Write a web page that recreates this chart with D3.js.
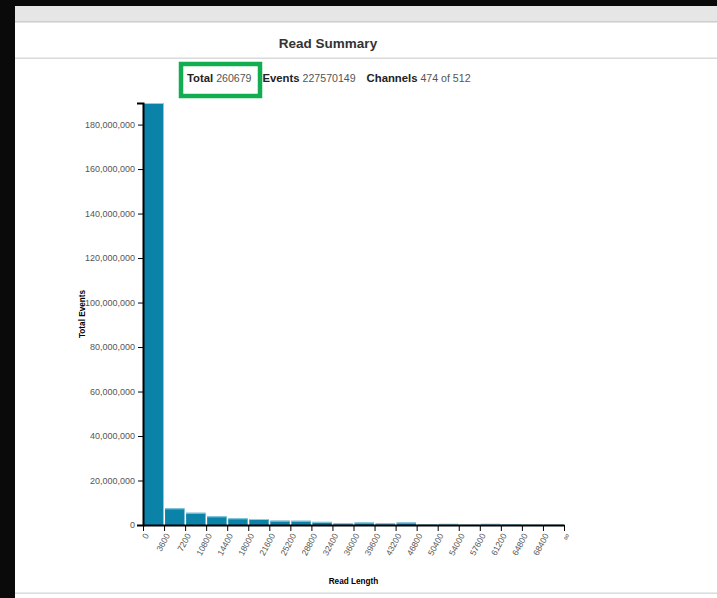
<!DOCTYPE html>
<html>
<head>
<meta charset="utf-8">
<script src="https://cdn.jsdelivr.net/npm/d3@7"></script>
<style>
  html, body { margin: 0; padding: 0; background: #0a0a0a; }
  svg { display: block; }
  text { font-family: "Liberation Sans", Arial, Helvetica, sans-serif; }
</style>
</head>
<body>
<script>
// Read-length bins (bin edges every 3600 bases, last bin open-ended)
const binEdges = ["0", "3600", "7200", "10800", "14400", "18000", "21600", "25200",
  "28800", "32400", "36000", "39600", "43200", "46800", "50400", "54000",
  "57600", "61200", "64800", "68400", "\u221E"];

// Total events per read-length bin
const totalEvents = [189700000, 7500000, 5500000, 3900000, 3000000, 2700000,
  1950000, 1900000, 1400000, 700000, 1100000, 700000, 1100000, 200000,
  500000, 100000, 500000, 400000, 100000, 100000];

// Y axis tick values
const yTicks = [0, 20000000, 40000000, 60000000, 80000000, 100000000,
  120000000, 140000000, 160000000, 180000000];

// Summary figures shown under the title
const summaryStats = [
  { label: "Total", value: "260679" },
  { label: "Events", value: "227570149" },
  { label: "Channels", value: "474 of 512" }
];

const W = 717, H = 598;
const svg = d3.select("body").append("svg").attr("width", W).attr("height", H);

// window frame: dark surround, grey header strip, white panel
svg.append("rect").attr("x", 0).attr("y", 0).attr("width", W).attr("height", H).attr("fill", "#0a0a0a");
svg.append("rect").attr("x", 15).attr("y", 6).attr("width", W - 15).attr("height", H - 6).attr("fill", "#ffffff");
svg.append("rect").attr("x", 15).attr("y", 6).attr("width", W - 15).attr("height", 15).attr("fill", "#e6e6e6");
svg.append("rect").attr("x", 15).attr("y", 21).attr("width", W - 15).attr("height", 1.6).attr("fill", "#cfcfcf");
svg.append("rect").attr("x", 15).attr("y", 57.5).attr("width", W - 15).attr("height", 1.4).attr("fill", "#d8d8d8");
svg.append("rect").attr("x", 15).attr("y", 592.5).attr("width", W - 15).attr("height", 1.4).attr("fill", "#d8d8d8");

// title
svg.append("text").attr("x", 328).attr("y", 47.5)
  .attr("text-anchor", "middle")
  .attr("font-size", 13.5).attr("font-weight", "bold").attr("fill", "#333")
  .text("Read Summary");

// summary line
const stats = svg.append("text").attr("x", 187).attr("y", 82);
summaryStats.forEach((s, i) => {
  stats.append("tspan")
    .attr("dx", i === 0 ? 0 : 11)
    .attr("font-size", 11.3).attr("font-weight", "bold").attr("fill", "#222")
    .text(s.label);
  stats.append("tspan")
    .attr("dx", 3)
    .attr("font-size", 10.6).attr("fill", "#555")
    .text(s.value);
});

// highlight box around the total
svg.append("rect").attr("x", 181).attr("y", 64).attr("width", 79).attr("height", 32)
  .attr("fill", "none").attr("stroke", "#12ad50").attr("stroke-width", 4.5);

// chart
const x0 = 143, x1 = 564, y0 = 525, y1 = 103;
const x = d3.scaleLinear().domain([0, totalEvents.length]).range([x0, x1]);
const y = d3.scaleLinear().domain([0, d3.max(totalEvents)]).range([y0, y1]);

const g = svg.append("g");

g.selectAll("rect.bar").data(totalEvents).enter().append("rect")
  .attr("class", "bar")
  .attr("x", (d, i) => x(i) + 1)
  .attr("y", d => y(d))
  .attr("width", (d, i) => x(i + 1) - x(i) - 1.6)
  .attr("height", d => y0 - y(d))
  .attr("fill", "#0b82a8");

// light top edge of each bar
g.selectAll("line.cap").data(totalEvents).enter().append("line")
  .attr("class", "cap")
  .attr("x1", (d, i) => x(i) + 1)
  .attr("x2", (d, i) => x(i + 1) - 0.6)
  .attr("y1", d => y(d) + 0.5).attr("y2", d => y(d) + 0.5)
  .attr("stroke", "#8fd0e4").attr("stroke-width", 1);

// y axis
const yAxis = g.append("g").attr("transform", `translate(${x0},0)`)
  .call(d3.axisLeft(y).tickValues(yTicks).tickFormat(d3.format(",")).tickSize(5).tickSizeOuter(6));
yAxis.select(".domain").attr("stroke", "#000").attr("stroke-width", 2);
yAxis.selectAll(".tick line").attr("stroke", "#000");
yAxis.selectAll(".tick text").attr("font-size", 9).attr("fill", "#555")
  .attr("font-family", "'Liberation Sans', Arial, sans-serif");

// x axis
const xAxis = g.append("g").attr("transform", `translate(0,${y0})`)
  .call(d3.axisBottom(x).tickValues(d3.range(binEdges.length))
    .tickFormat(i => binEdges[i]).tickSize(6).tickSizeOuter(0));
xAxis.select(".domain").attr("stroke", "#000").attr("stroke-width", 2);
xAxis.selectAll(".tick line").attr("stroke", "#000");
xAxis.selectAll(".tick text")
  .attr("font-size", 8.5).attr("fill", "#555")
  .attr("font-family", "'Liberation Sans', Arial, sans-serif")
  .attr("text-anchor", "end")
  .attr("x", 0).attr("y", 0).attr("dy", "0.35em")
  .attr("transform", "translate(3,9) rotate(-62)");

// axis titles
svg.append("text")
  .attr("transform", `translate(85,${(y0 + y1) / 2}) rotate(-90)`)
  .attr("text-anchor", "middle")
  .attr("font-size", 8.2).attr("font-weight", "bold").attr("fill", "#000")
  .text("Total Events");

svg.append("text").attr("x", (x0 + x1) / 2).attr("y", 584)
  .attr("text-anchor", "middle")
  .attr("font-size", 8.2).attr("font-weight", "bold").attr("fill", "#000")
  .text("Read Length");
</script>
</body>
</html>
